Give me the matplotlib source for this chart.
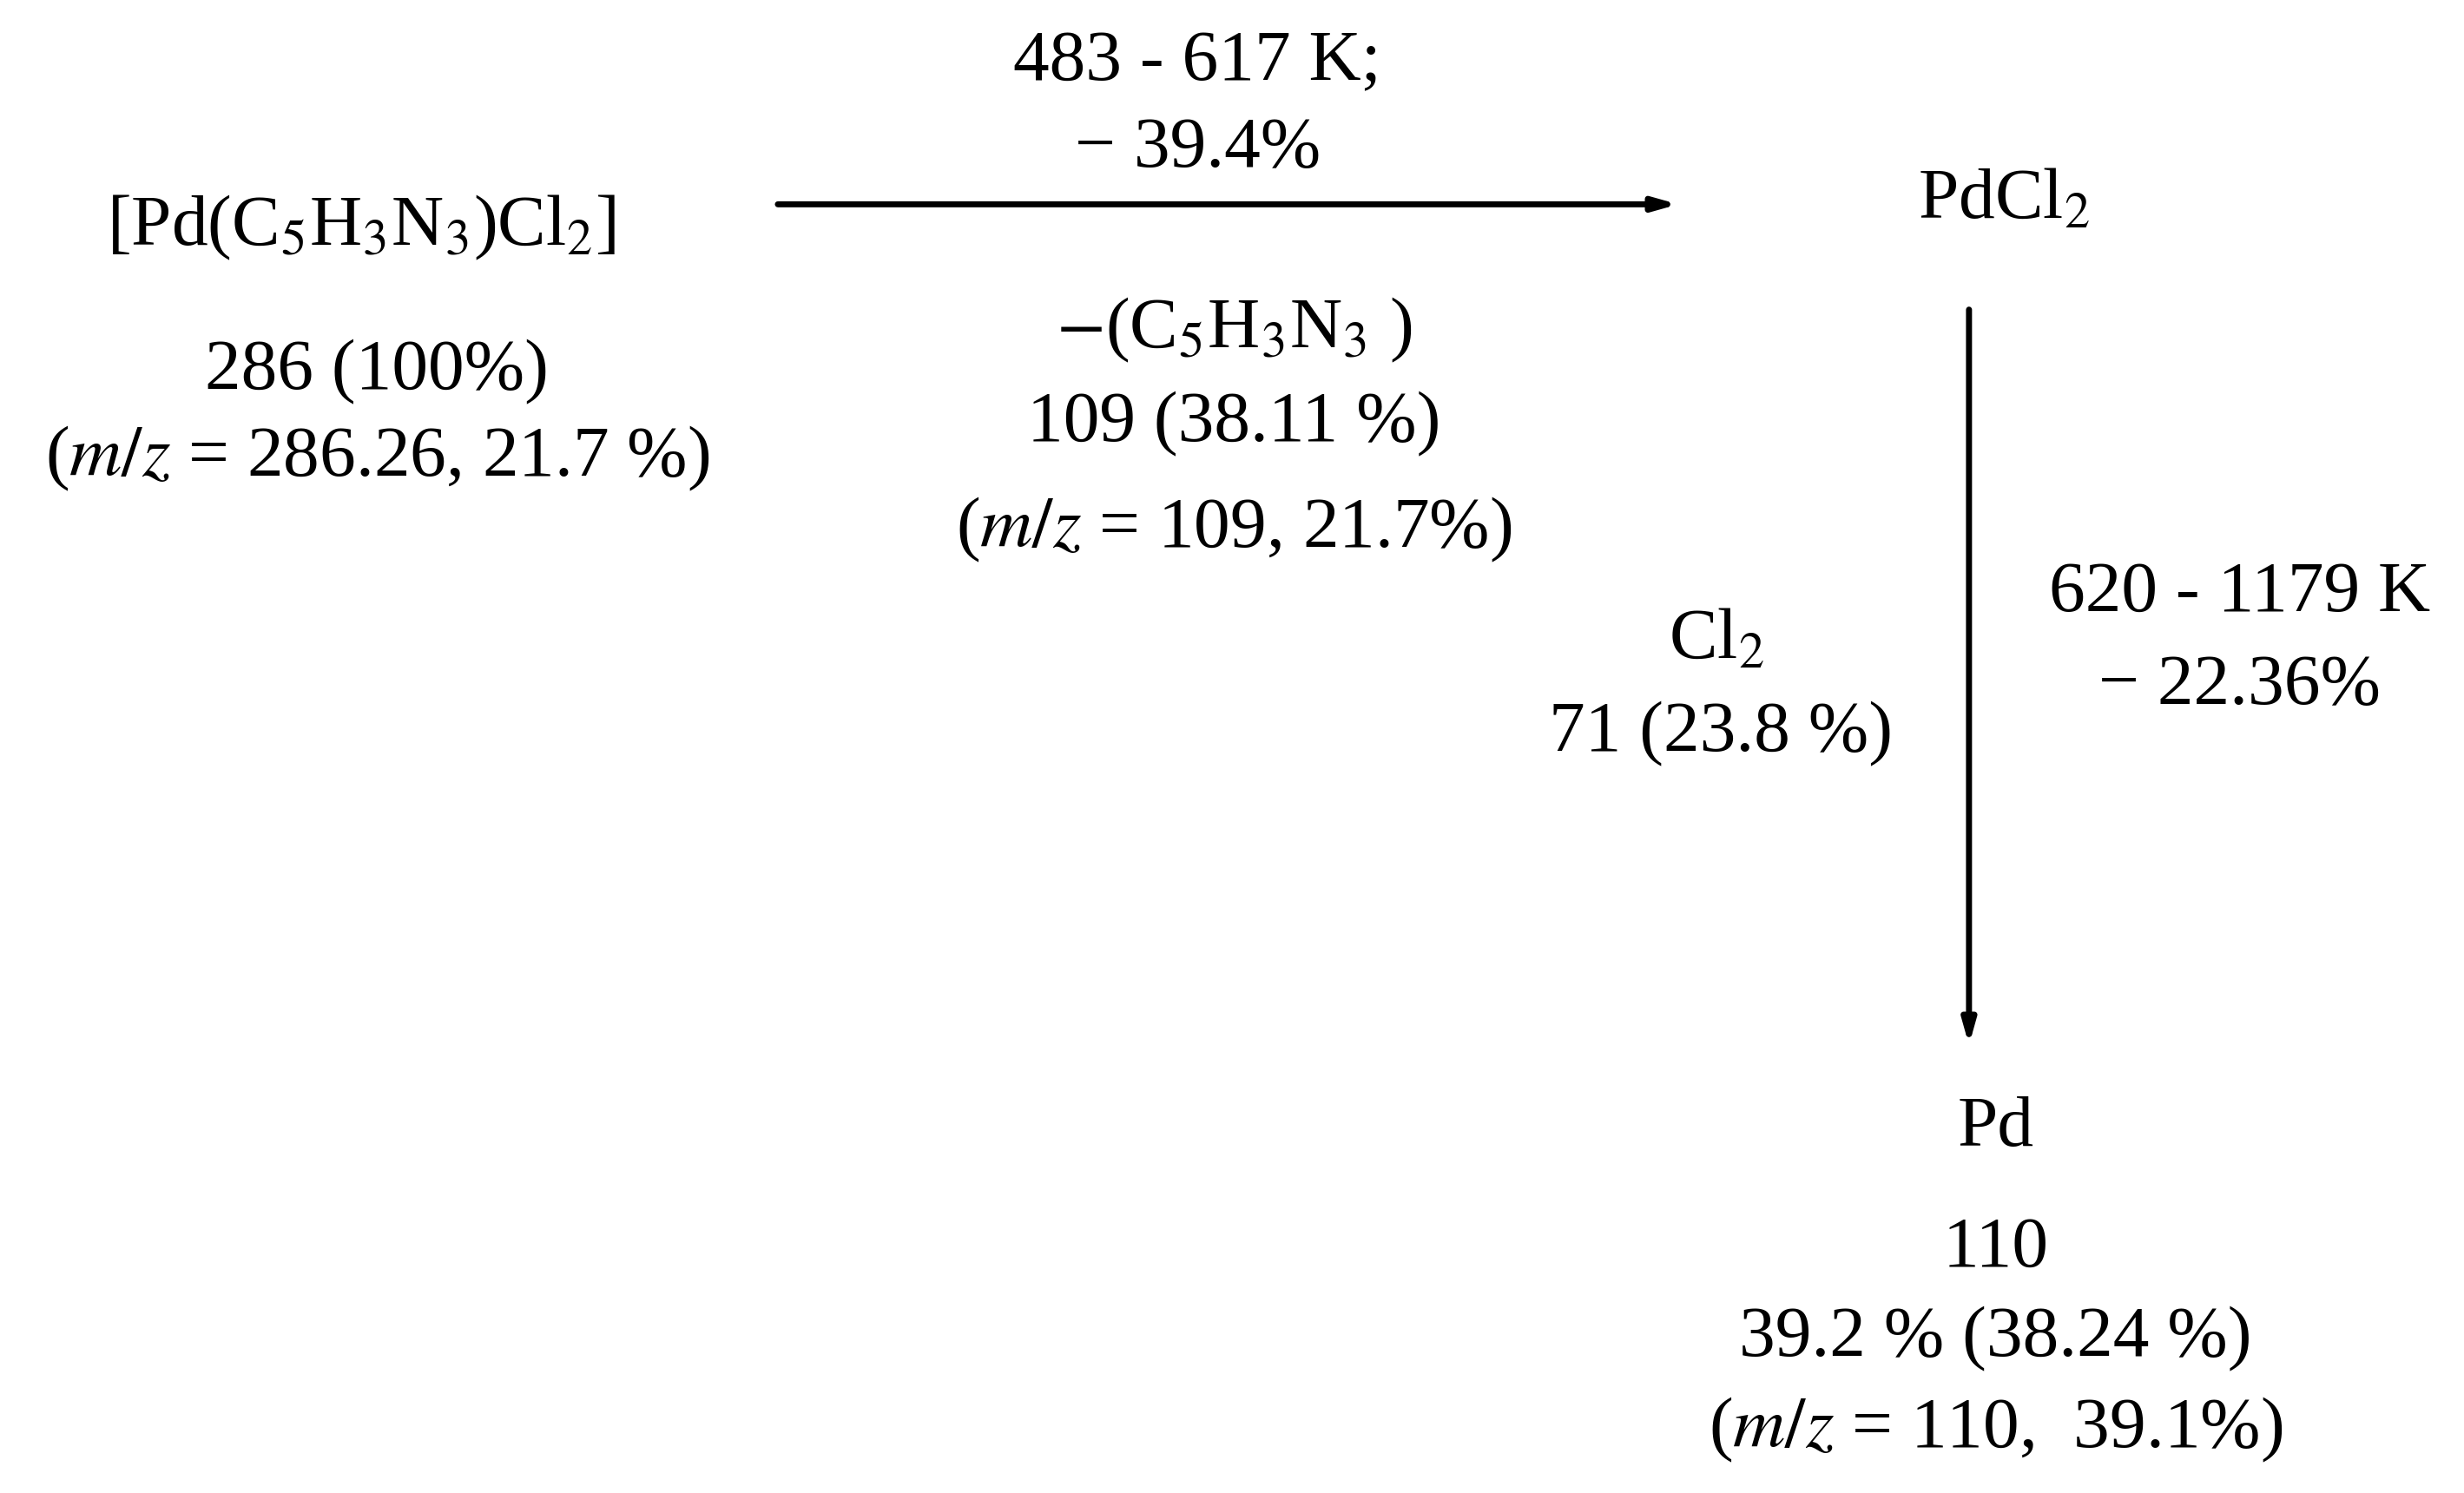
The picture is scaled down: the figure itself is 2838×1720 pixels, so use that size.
import matplotlib.pyplot as plt

plt.rcParams['font.family'] = ['Liberation Serif', 'DejaVu Serif']
plt.rcParams['mathtext.fontset'] = 'stix'

# labels and their anchor points (reference pixel frame 1568 x 950)
labels = [
    r'[Pd(C$_5$H$_3$N$_3$)Cl$_2$]',
    '286 (100%)',
    r'($m/z$ = 286.26, 21.7 %)',
    '483 - 617 K;',
    '\u2212 39.4%',
    r'$-$(C$_5$H$_3$N$_3$ )',
    '109 (38.11 %)',
    r'($m/z$ = 109, 21.7%)',
    r'PdCl$_2$',
    r'Cl$_2$',
    '71 (23.8 %)',
    '620 - 1179 K',
    '\u2212 22.36%',
    'Pd',
    '110',
    '39.2 % (38.24 %)',
    r'($m/z$ = 110,  39.1%)',
]
label_x = [230, 240, 240, 762, 762, 785, 785, 785, 1275, 1092, 1095, 1425, 1425, 1270, 1270, 1270, 1270]
label_y = [145, 237, 292, 40, 95, 210, 270, 337, 128, 408, 467, 378, 437, 718, 795, 852, 910]

# arrows: (start, end)
arrows = [((495, 130), (1068, 130)), ((1253, 197), (1253, 665))]

fig = plt.figure(figsize=(28.38, 17.2), dpi=100)
ax = fig.add_axes([0, 0, 1, 1])
ax.set_xlim(0, 1568)
ax.set_ylim(950, 0)
ax.axis('off')

for t, x, y in zip(labels, label_x, label_y):
    ax.text(x, y, t, fontsize=60, ha='center', va='center')

for s, e in arrows:
    ax.annotate('', xy=e, xytext=s,
                arrowprops=dict(arrowstyle='-|>,head_length=1.6,head_width=0.45',
                                lw=5, color='black', shrinkA=0, shrinkB=0))

fig.savefig('out.png', dpi=100)
